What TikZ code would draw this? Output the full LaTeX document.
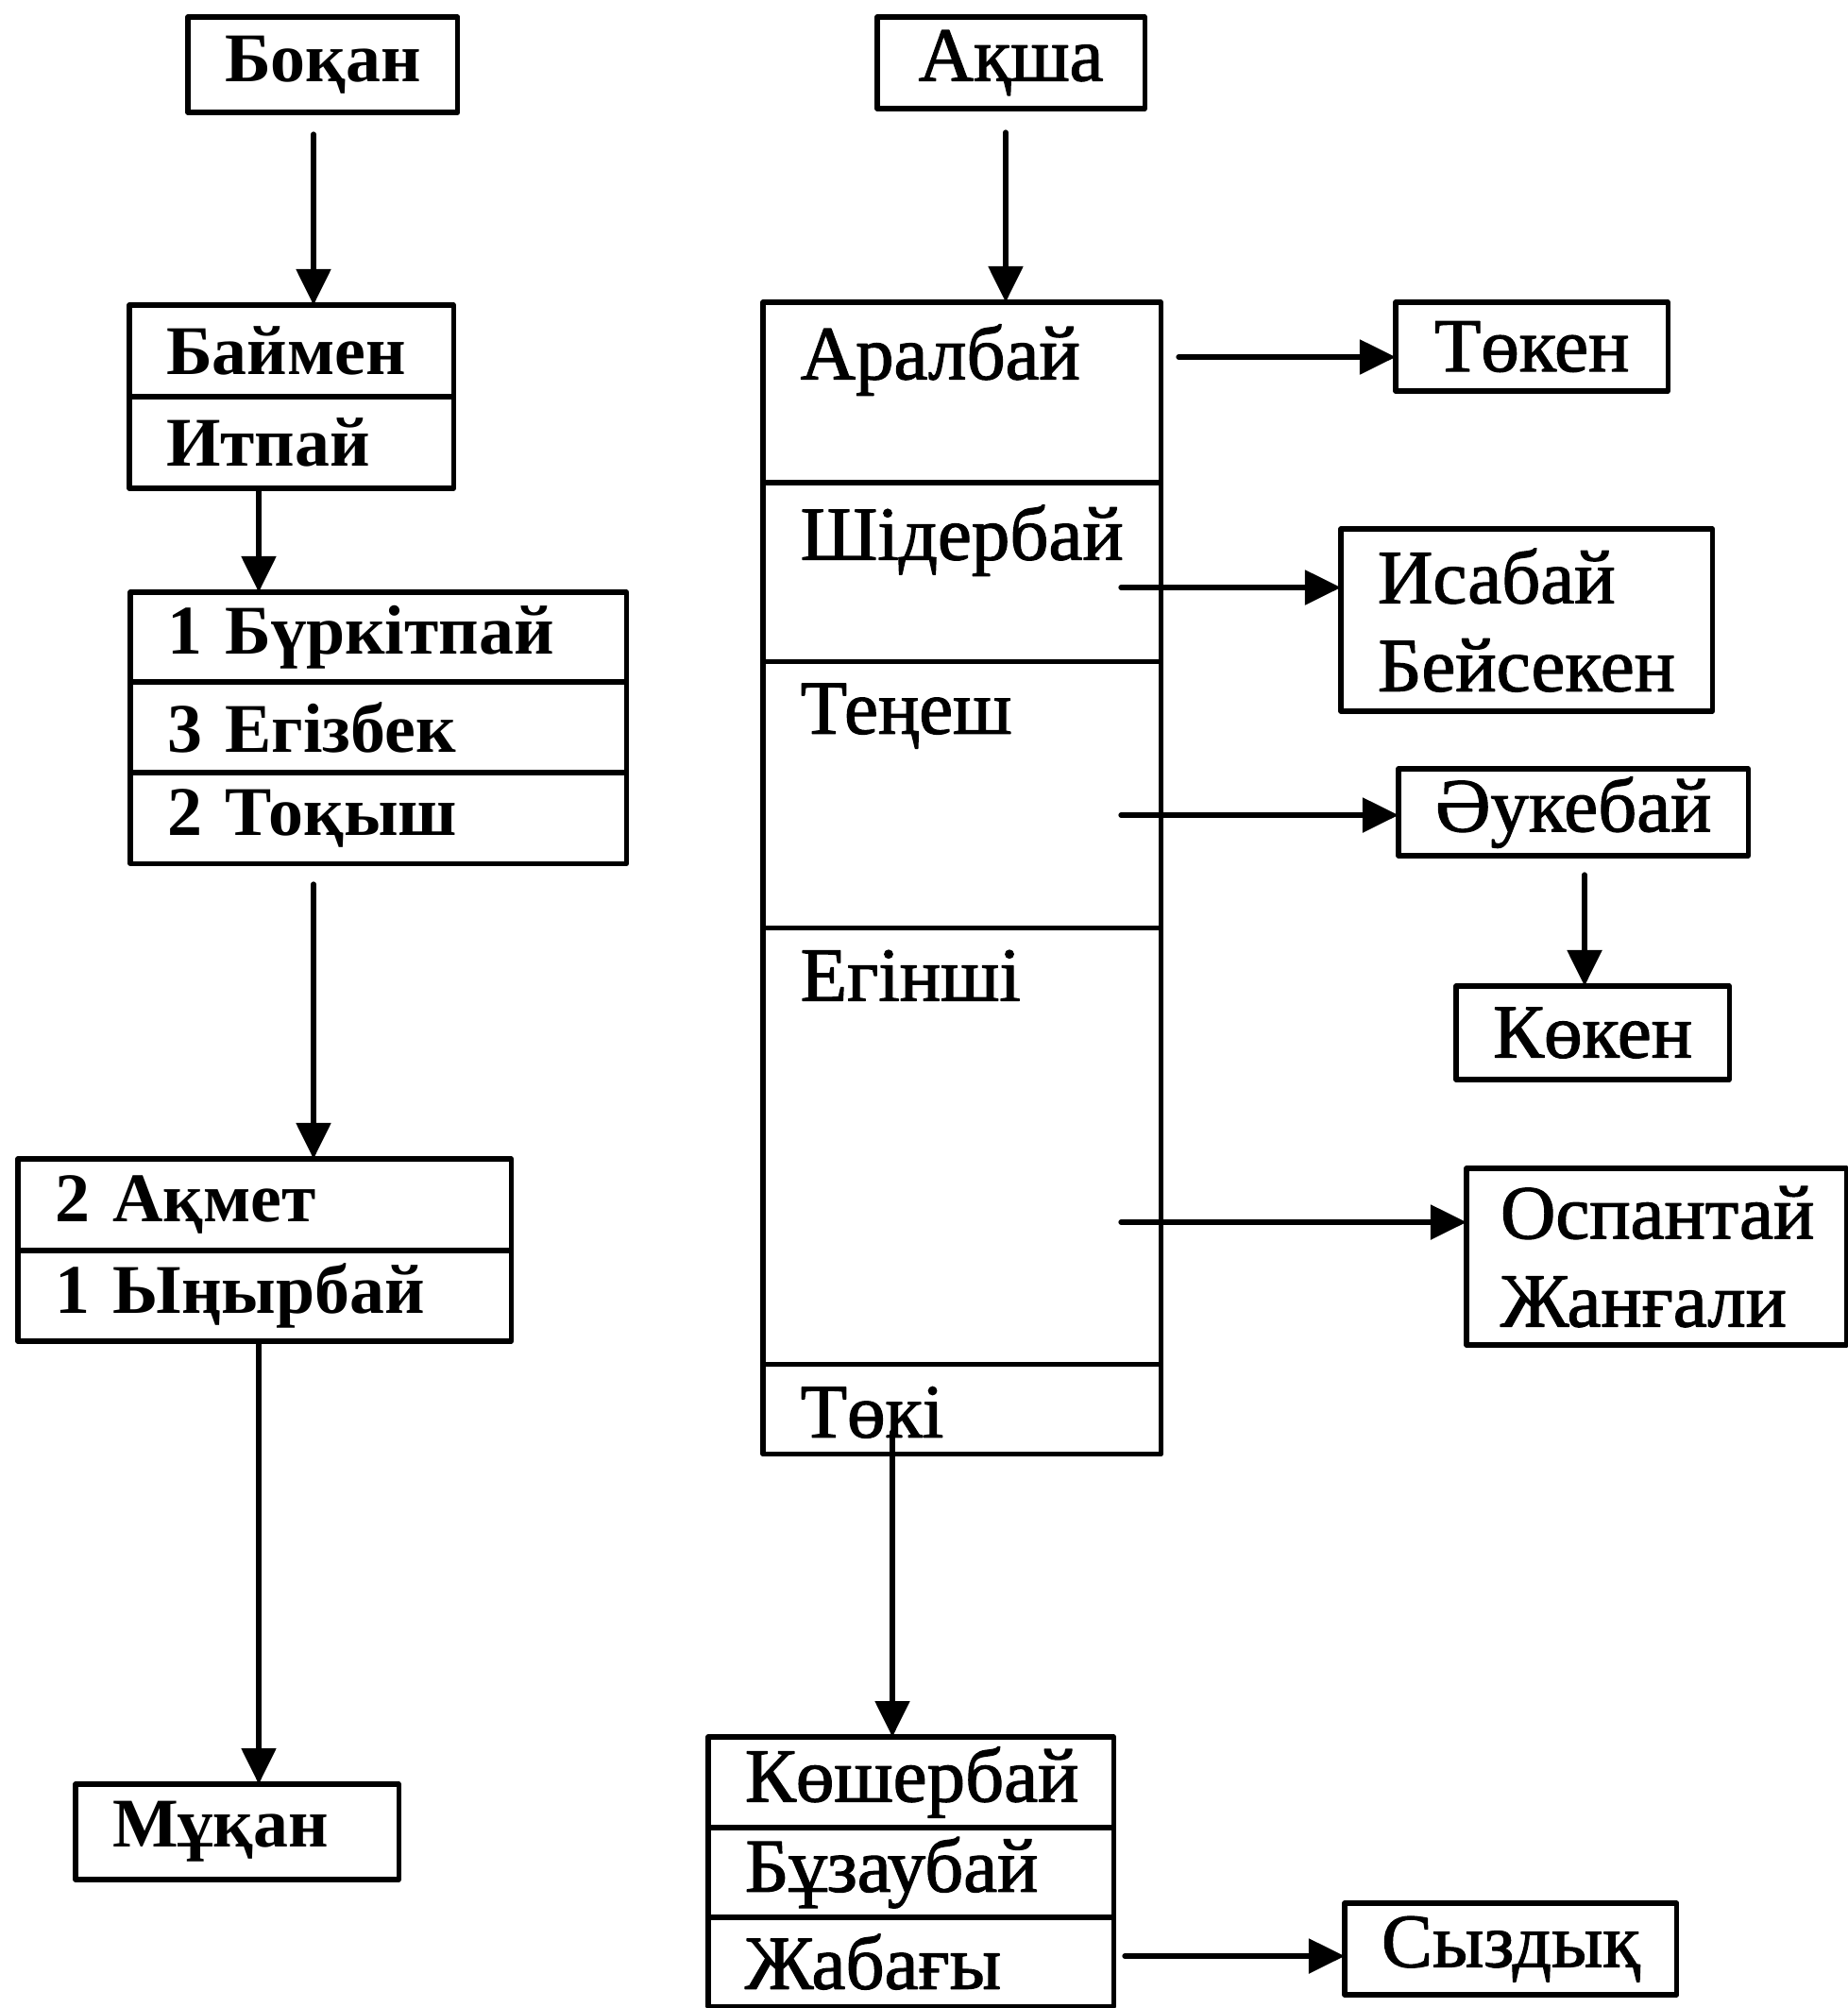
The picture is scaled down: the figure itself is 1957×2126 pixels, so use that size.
\documentclass[tikz,border=0pt]{standalone}
\usepackage{fontspec}
\setmainfont{Liberation Serif}
\newfontfamily\narrowfont{Liberation Serif}[FakeBold=1.5]
\usetikzlibrary{arrows.meta, positioning}
\newcommand{\leftfont}{\fontsize{21}{25}\selectfont\bfseries}
\newcommand{\rightfont}{\narrowfont\fontsize{23}{26.5}\selectfont}
\tikzset{every path/.style={line cap=round, line join=round}, >={Triangle[length=3.8mm, width=3.6mm]}}
\tikzset{
    namebox/.style={draw, line width=1.5pt, outer sep=0pt, inner ysep=0pt, inner xsep=0.39cm},
    leftrow/.style={namebox, font=\leftfont, align=left},
    rightbox/.style={namebox, font=\rightfont},
    rightrow/.style={namebox, font=\rightfont, align=left},
    section/.style={namebox, minimum width=4.21cm},
    seclabel/.style={anchor=north west, font=\rightfont, inner xsep=0.39cm, inner ysep=6.5pt},
    link/.style={->, line width=1.5pt}
}

\begin{document}
\begin{tikzpicture}[x=0.01cm, y=-0.01cm]
    \useasboundingbox (0,0) rectangle (1957,2126);

    % left branch
    \node [leftrow, minimum width=2.81cm, minimum height=1.01cm, align=center, anchor=north west] (bokan) at (199,18) {Боқан};
    \node [leftrow, text width=2.65cm, minimum height=0.97cm, anchor=north west] (baimen) at (137,323) {Баймен};
    \node [leftrow, text width=2.65cm, minimum height=0.97cm, below=0pt of baimen] (itpai) {Итпай};
    \node [leftrow, text width=4.47cm, minimum height=0.95cm, anchor=north west] (burkit) at (138,627) {1 Бүркітпай};
    \node [leftrow, text width=4.47cm, minimum height=0.96cm, below=0pt of burkit] (egizbek) {3 Егізбек};
    \node [leftrow, text width=4.47cm, minimum height=0.96cm, below=0pt of egizbek] (tokysh) {2 Тоқыш};
    \node [leftrow, text width=4.44cm, minimum height=0.97cm, anchor=north west] (akmet) at (19,1227) {2 Ақмет};
    \node [leftrow, text width=4.44cm, minimum height=0.96cm, below=0pt of akmet] (ynyr) {1 Ыңырбай};
    \node [leftrow, text width=2.64cm, minimum height=1.01cm, anchor=north west] (mukan) at (80,1889) {Мұқан};

    % right branch
    \node [rightbox, minimum width=2.83cm, minimum height=0.97cm, anchor=north west] (aksha) at (929,18) {Ақша};
    \node [section, minimum height=1.91cm, anchor=north west] (aral) at (808,320) {};
    \node [section, minimum height=1.89cm, below=0pt of aral] (shider) {};
    \node [section, minimum height=2.82cm, below=0pt of shider] (tenes) {};
    \node [section, minimum height=4.62cm, below=0pt of tenes] (egin) {};
    \node [section, minimum height=0.95cm, below=0pt of egin] (toki) {};
    \node [seclabel] (aralname) at (aral.north west) {Аралбай};
    \node [seclabel] (shidername) at (shider.north west) {Шідербай};
    \node [seclabel] (tenesname) at (tenes.north west) {Теңеш};
    \node [seclabel] (eginname) at (egin.north west) {Егінші};
    \node [seclabel] (tokiname) at (toki.north west) {Төкі};

    \node [rightbox, minimum width=2.88cm, minimum height=0.94cm, anchor=north west] (token) at (1478,320) {Төкен};
    \node [rightrow, text width=3.15cm, minimum height=1.93cm, anchor=north west] (isabai) at (1420,560) {Исабай\\Бейсекен};
    \node [rightbox, minimum width=3.70cm, minimum height=0.92cm, anchor=north west] (aukebai) at (1481,814) {Әукебай};
    \node [rightbox, minimum width=2.89cm, minimum height=0.99cm, anchor=north west] (koken) at (1542,1044) {Көкен};
    \node [rightrow, text width=3.30cm, minimum height=1.87cm, inner xsep=0.36cm, anchor=north west] (ospan) at (1553,1237) {Оспантай\\Жанғали};

    \node [rightrow, text width=3.51cm, minimum height=0.96cm, anchor=north west] (kosher) at (750,1839) {Көшербай};
    \node [rightrow, text width=3.51cm, minimum height=0.95cm, below=0pt of kosher] (buzau) {Бұзаубай};
    \node [rightrow, text width=3.51cm, minimum height=0.94cm, below=0pt of buzau] (zhabagy) {Жабағы};
    \node [rightbox, minimum width=3.49cm, minimum height=0.97cm, anchor=north west] (syzdyk) at (1424,2015) {Сыздық};

    % connectors
    \coordinate (bokanout) at (332,142);
    \coordinate (itpaiout) at (274,517);
    \coordinate (tokyshout) at (332,936);
    \coordinate (ynyrout) at (274,1420);
    \coordinate (akshaout) at (1065,140);
    \coordinate (aralout) at (1248,378);
    \coordinate (shiderout) at (1187,622);
    \coordinate (tenesout) at (1187,863);
    \coordinate (aukeout) at (1678,926);
    \coordinate (eginout) at (1187,1294);
    \coordinate (tokiout) at (945,1516);
    \coordinate (zhabout) at (1191,2071);

    \draw [link] (bokanout) -- (bokanout |- baimen.north);
    \draw [link] (itpaiout) -- (itpaiout |- burkit.north);
    \draw [link] (tokyshout) -- (tokyshout |- akmet.north);
    \draw [link] (ynyrout) -- (ynyrout |- mukan.north);
    \draw [link] (akshaout) -- (akshaout |- aral.north);
    \draw [link] (aralout) -- (aralout -| token.west);
    \draw [link] (shiderout) -- (shiderout -| isabai.west);
    \draw [link] (tenesout) -- (tenesout -| aukebai.west);
    \draw [link] (aukeout) -- (aukeout |- koken.north);
    \draw [link] (eginout) -- (eginout -| ospan.west);
    \draw [link] (tokiout) -- (tokiout |- kosher.north);
    \draw [link] (zhabout) -- (zhabout -| syzdyk.west);
\end{tikzpicture}
\end{document}
